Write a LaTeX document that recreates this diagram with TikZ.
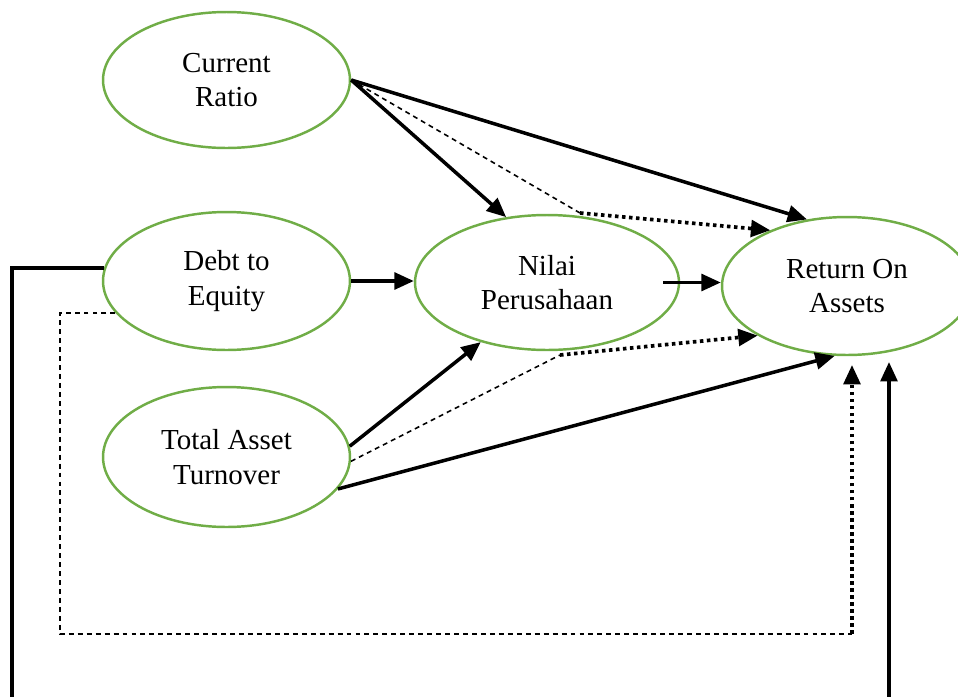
\documentclass[tikz,border=0pt]{standalone}
\usepackage{fontspec}
\setmainfont{Liberation Serif}
\usetikzlibrary{arrows.meta,shapes.geometric}
\definecolor{leafgreen}{HTML}{70AD47}
\begin{document}
\begin{tikzpicture}
  [x=0.02cm,y=-0.02cm,every node/.style={ellipse,draw=leafgreen,line width=1.4pt,inner sep=0pt,align=center,font=\fontsize{16.5}{19.8}\selectfont}]
  \tikzstyle{direct} = [line width=2pt,-{Triangle[length=11pt,width=9.5pt]}]
  \tikzstyle{viapath} = [line width=0.9pt,dash pattern=on 2.8pt off 2.3pt]
  \tikzstyle{viaend} = [line width=2.1pt,dash pattern=on 2pt off 2pt,-{Triangle[length=11pt,width=9.5pt]}]
  \clip (0,0) rectangle (958,697);

  \node[minimum width=4.94cm,minimum height=2.72cm] (cr) at (226.5,80) {Current\\Ratio};
  \node[minimum width=4.94cm,minimum height=2.76cm] (de) at (226.5,281) {Debt to\\Equity};
  \node[minimum width=4.94cm,minimum height=2.8cm] (tat) at (226.5,457) {Total Asset\\Turnover};
  \node[minimum width=5.28cm,minimum height=2.7cm] (np) at (547,282.5) {Nilai\\Perusahaan};
  \node[minimum width=5cm,minimum height=2.76cm] (roa) at (847,286) {Return On\\Assets};

  % direct effects
  \foreach \from/\to in {cr.east/np.122,cr.east/roa.121,tat.5.5/np.222.6,tat.-16/roa.260}
    \draw[direct] (\from) -- (\to);
  \draw[direct] (de.east) -- (de.east -| np.west);
  \draw[direct] ([xshift=-0.34cm]np.east) -- (np.east -| roa.west);

  % indirect effects through Nilai Perusahaan
  \coordinate (crbend) at (580,213);
  \coordinate (tatbend) at (560,355);
  \draw[viapath] (cr.east) -- (crbend);
  \draw[viaend] (crbend) -- (roa.144);
  \draw[viapath] (tat.-2) -- (tatbend);
  \draw[viaend] (tatbend) -- (roa.209.5);

  % Debt to Equity loops
  \coordinate (dashcorner) at (852,634);
  \draw[viapath] (de.196) -| (60,634) -- (dashcorner);
  \draw[viaend] (dashcorner) -- (852,365);
  \draw[direct] (de.174) -| (12,705) -| (889,362);

\end{tikzpicture}
\end{document}
